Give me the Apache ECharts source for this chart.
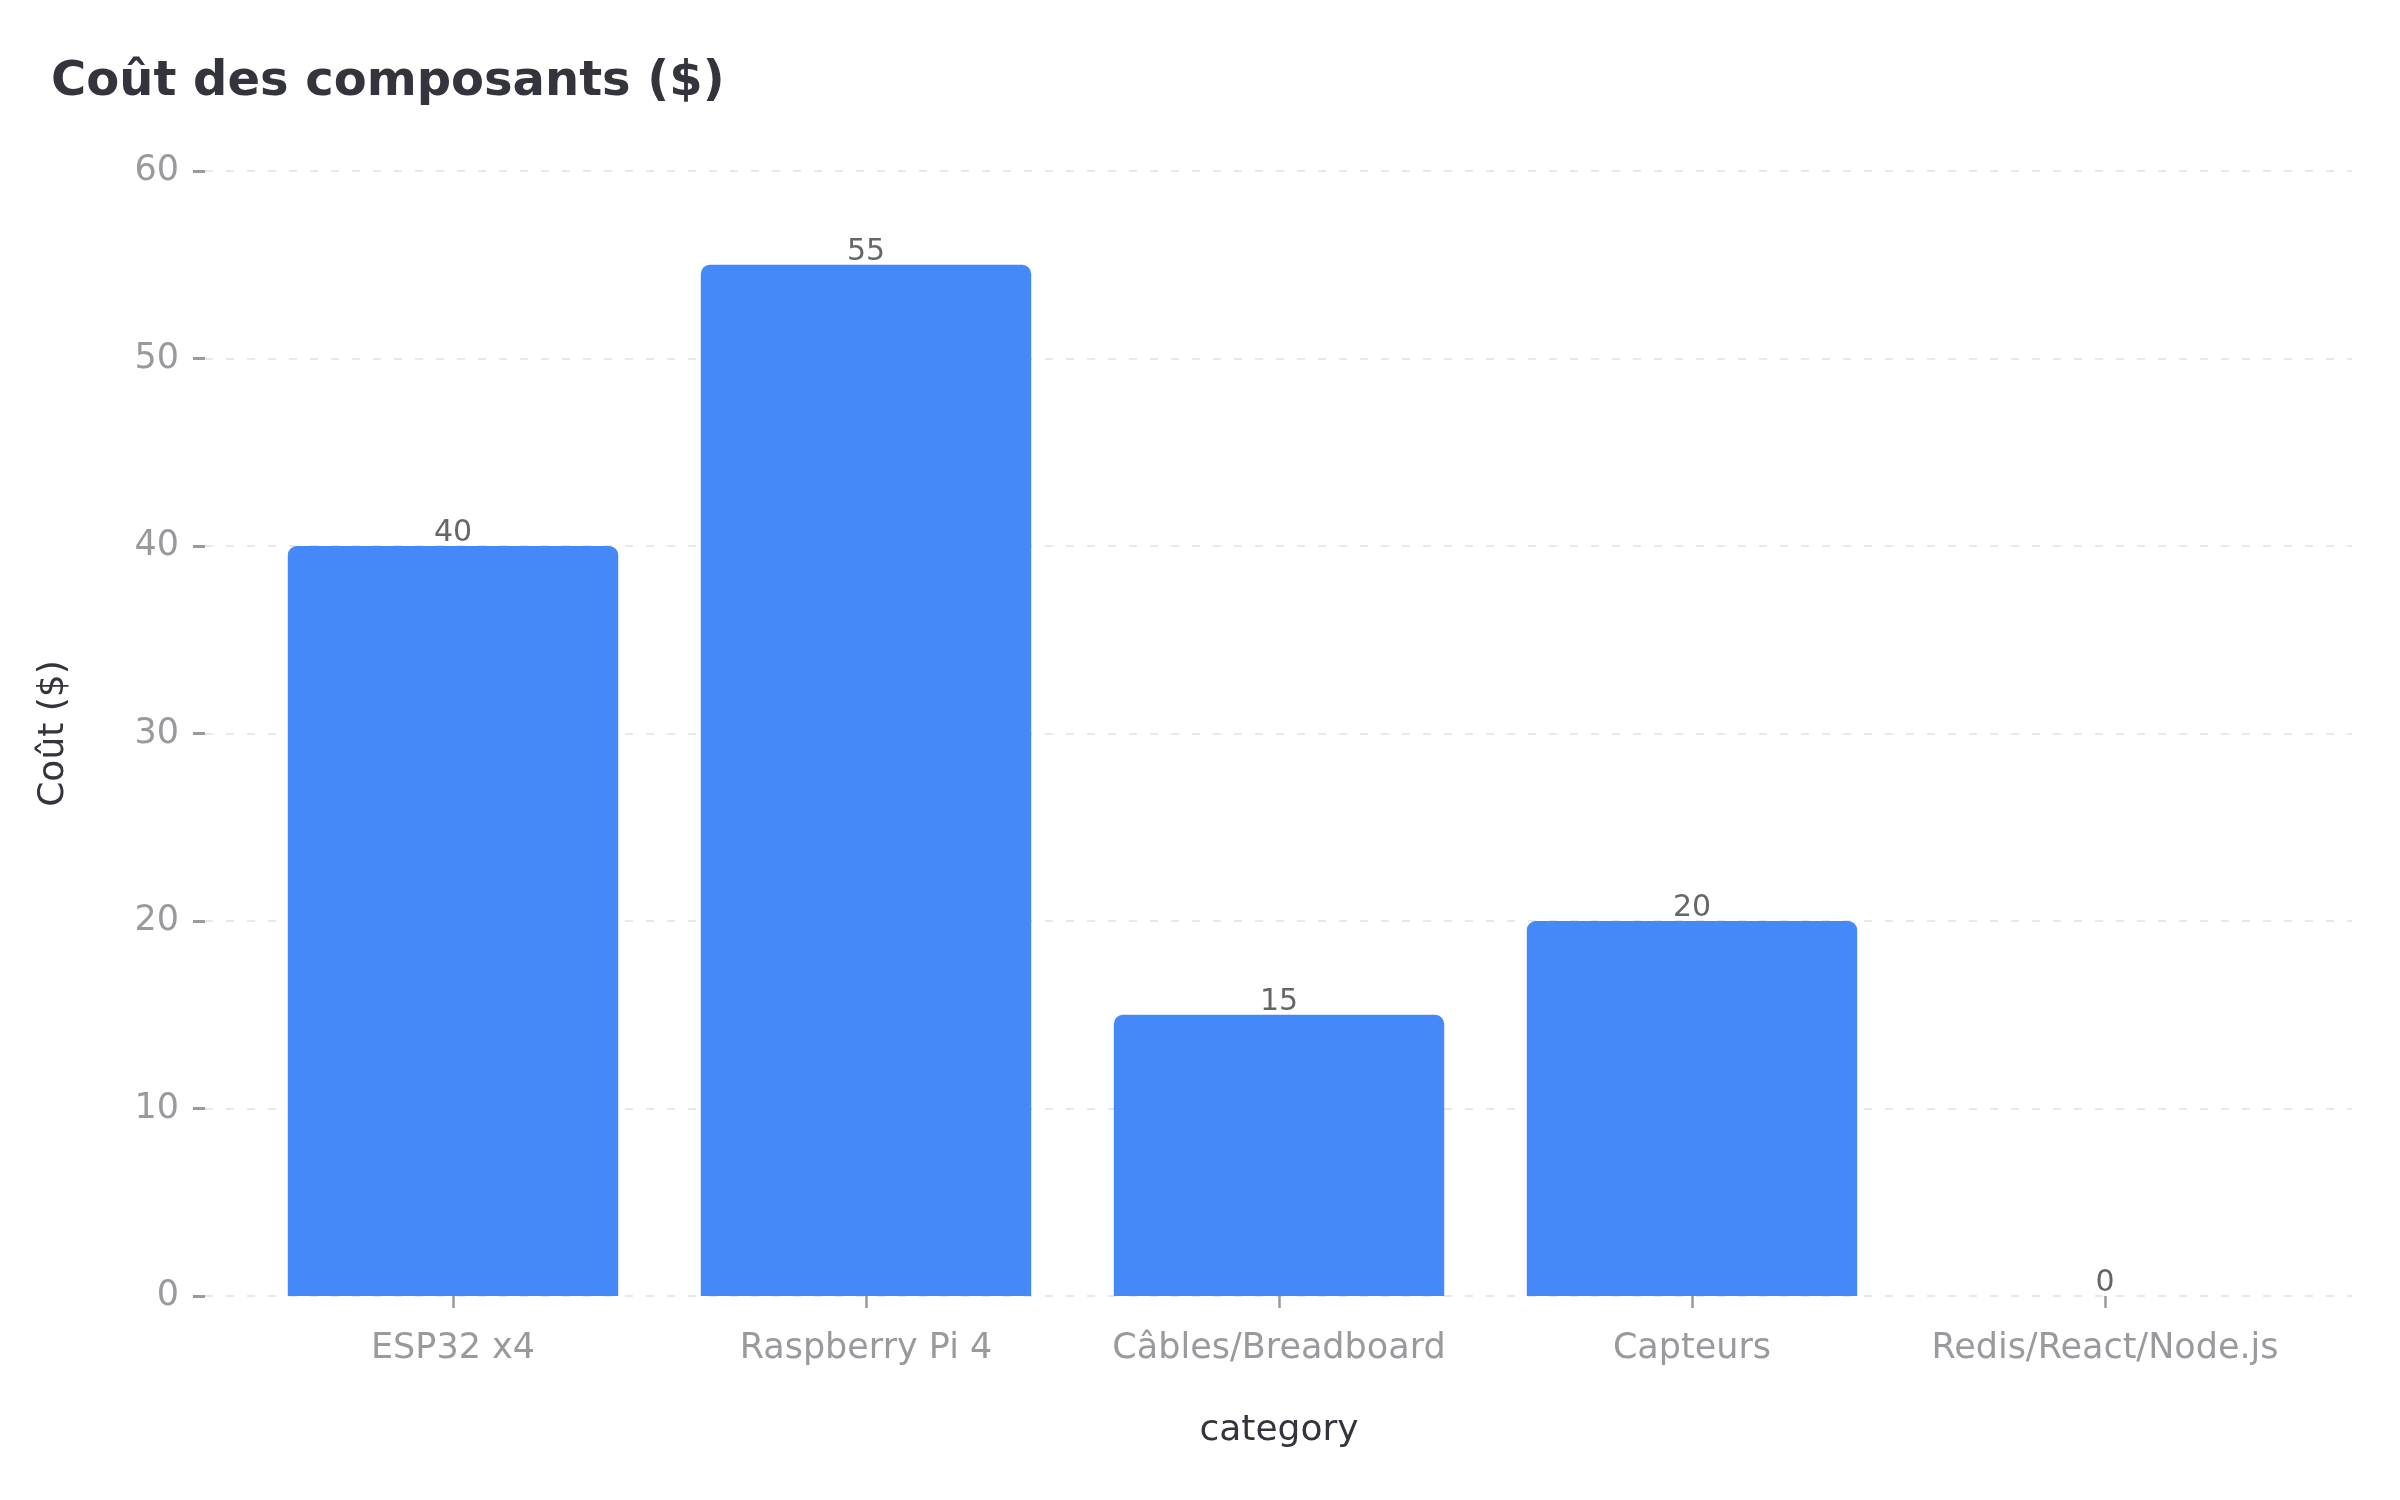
<!DOCTYPE html>
<html>
<head>
<meta charset="utf-8">
<title>Coût des composants</title>
<script src="https://cdn.jsdelivr.net/npm/echarts@6/dist/echarts.min.js"></script>
<style>
  html, body { margin: 0; padding: 0; background: #fff; }
  #main { width: 2400px; height: 1500px; }
</style>
</head>
<body>
<div id="main"></div>
<script>
// données du graphique
const categories = ["ESP32 x4", "Raspberry Pi 4", "Câbles/Breadboard", "Capteurs", "Redis/React/Node.js"];
const costs = [40, 55, 15, 20, 0];
const yTicks = [0, 10, 20, 30, 40, 50, 60];

const FONT = "DejaVu Sans";
const dark = "#33343c";
const grey = "#9a9a9e";

let myChart = echarts.init(document.getElementById("main"));

let option = {
  animation: false,
  backgroundColor: "#ffffff",
  textStyle: { fontFamily: FONT },
  title: {
    text: "Coût des composants ($)",
    left: 46,
    top: 54,
    textStyle: { fontFamily: FONT, fontSize: 48, fontWeight: "bold", color: dark }
  },
  grid: [
    // grille large : axe des valeurs + lignes pointillées
    { left: 205, right: 48, top: 171, bottom: 204 },
    // grille des barres
    { left: 246.5, right: 88.5, top: 171, bottom: 204 }
  ],
  xAxis: [
    { gridIndex: 0, type: "value", show: false, min: 0, max: 1 },
    {
      gridIndex: 1,
      type: "category",
      data: categories,
      name: "category",
      nameLocation: "middle",
      nameGap: 117,
      nameTextStyle: { fontFamily: FONT, fontSize: 36, color: dark },
      axisLine: { show: false },
      axisTick: { show: true, alignWithLabel: true, length: 12, lineStyle: { color: grey, width: 2.5 } },
      axisLabel: { margin: 35, fontFamily: FONT, fontSize: 35, color: grey, interval: 0 },
      splitLine: { show: false }
    }
  ],
  yAxis: [
    {
      gridIndex: 0,
      type: "value",
      min: yTicks[0],
      max: yTicks[yTicks.length - 1],
      interval: yTicks[1] - yTicks[0],
      name: "Coût ($)",
      nameLocation: "middle",
      nameGap: 133,
      nameTextStyle: { fontFamily: FONT, fontSize: 36, color: dark },
      axisLine: { show: false },
      axisTick: { show: true, length: 12, lineStyle: { color: grey, width: 3 } },
      axisLabel: { margin: 26, fontFamily: FONT, fontSize: 35, color: grey, padding: [5, 0, 0, 0] },
      splitLine: { show: true, lineStyle: { color: "#e8e8e8", width: 2, type: [8, 13] } }
    },
    {
      gridIndex: 1,
      type: "value",
      min: yTicks[0],
      max: yTicks[yTicks.length - 1],
      show: false,
      splitLine: { show: false }
    }
  ],
  series: [
    {
      name: "Coût ($)",
      type: "bar",
      xAxisIndex: 1,
      yAxisIndex: 1,
      data: costs,
      barCategoryGap: "20%",
      itemStyle: { color: "#4588f7", borderRadius: [9, 9, 0, 0] },
      label: {
        show: true,
        position: "top",
        distance: 1,
        offset: [0, 3],
        fontFamily: FONT,
        fontSize: 30,
        color: "#666666"
      }
    }
  ]
};

myChart.setOption(option);
window.addEventListener("resize", function() {
  myChart.resize();
});
</script>
</body>
</html>
